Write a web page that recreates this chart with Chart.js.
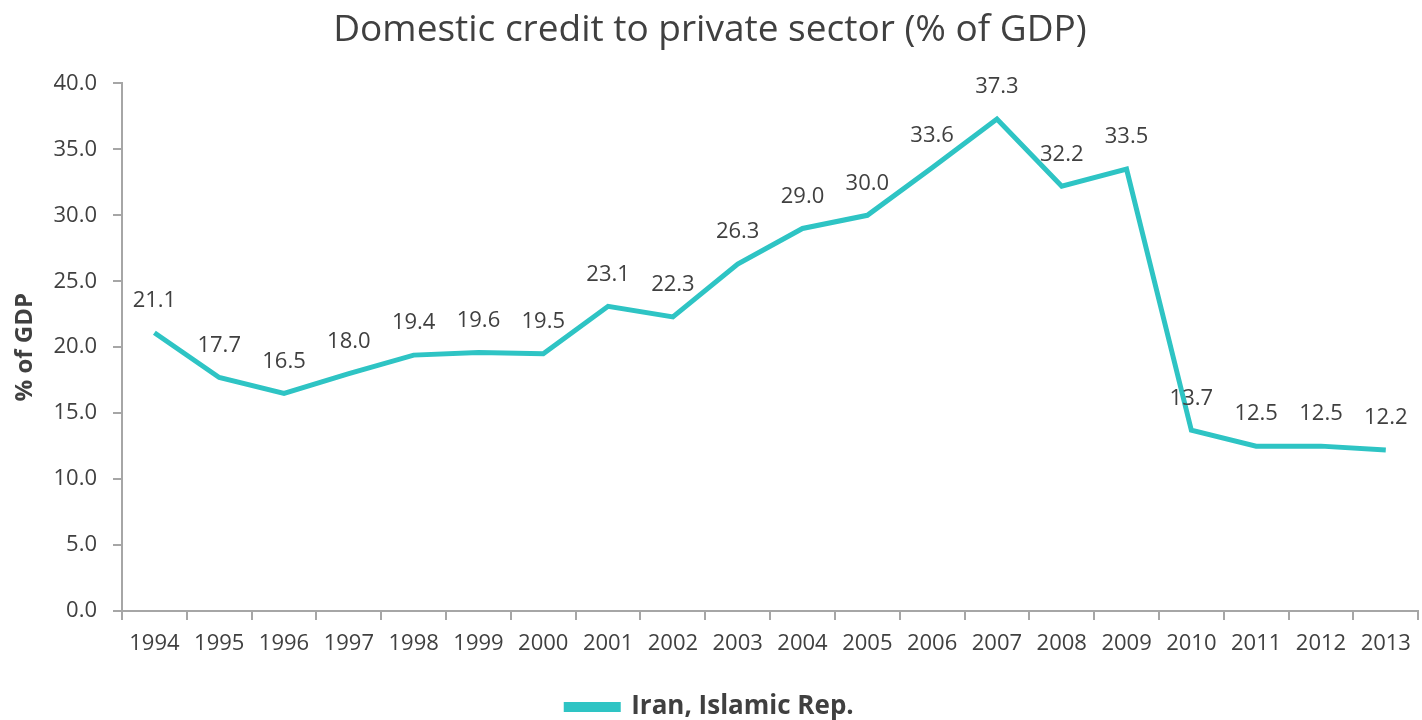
<!DOCTYPE html>
<html lang="en">
<head>
<meta charset="UTF-8">
<title>Domestic credit to private sector</title>
<script src="https://cdn.jsdelivr.net/npm/chart.js"></script>
<style>
    html, body { margin: 0; padding: 0; background: #ffffff; }
    #wrap { width: 1422px; height: 720px; position: relative; }
</style>
</head>
<body>
<div id="wrap"><canvas id="creditChart"></canvas></div>
<script>
const years = ['1994','1995','1996','1997','1998','1999','2000','2001','2002','2003',
               '2004','2005','2006','2007','2008','2009','2010','2011','2012','2013'];
const creditPct = [21.1, 17.7, 16.5, 18.0, 19.4, 19.6, 19.5, 23.1, 22.3, 26.3,
                   29.0, 30.0, 33.6, 37.3, 32.2, 33.5, 13.7, 12.5, 12.5, 12.2];
const seriesName = 'Iran, Islamic Rep.';

const FONT = "'Open Sans', sans-serif";
const TEXT = '#404040';
const LINE = '#2ec4c4';

// value labels above each point
const pointLabels = {
    id: 'pointLabels',
    afterDatasetsDraw(chart) {
        const ctx = chart.ctx;
        const meta = chart.getDatasetMeta(0);
        ctx.save();
        ctx.font = '22px ' + FONT;
        ctx.fillStyle = TEXT;
        ctx.textAlign = 'center';
        ctx.textBaseline = 'middle';
        meta.data.forEach((pt, i) => {
            ctx.fillText(creditPct[i].toFixed(1), pt.x, pt.y - 32);
        });
        ctx.restore();
    }
};

new Chart(document.getElementById('creditChart'), {
    type: 'line',
    data: {
        labels: years,
        datasets: [{
            label: seriesName,
            data: creditPct,
            borderColor: LINE,
            backgroundColor: LINE,
            borderWidth: 5,
            pointRadius: 0,
            tension: 0,
            fill: false
        }]
    },
    options: {
        responsive: true,
        maintainAspectRatio: false,
        animation: false,
        layout: { padding: { left: 0, right: 2, top: 0, bottom: -10 } },
        plugins: {
            title: {
                display: true,
                text: 'Domestic credit to private sector (% of GDP)',
                color: TEXT,
                font: { family: FONT, size: 37, weight: 'normal' },
                padding: { top: 8, bottom: 31 }
            },
            legend: {
                position: 'bottom',
                labels: {
                    color: TEXT,
                    font: { family: FONT, size: 26, weight: 'bold' },
                    boxWidth: 52,
                    boxHeight: 5,
                    padding: 2
                }
            },
            tooltip: { enabled: false }
        },
        scales: {
            x: {
                offset: true,
                border: { color: '#a6a6a6', width: 2 },
                grid: { offset: true, drawOnChartArea: false, tickLength: 9, color: '#a6a6a6', lineWidth: 2 },
                ticks: { color: TEXT, font: { family: FONT, size: 22 }, padding: 11, maxRotation: 0 },
                afterFit(s) { s.height = 81; }
            },
            y: {
                min: 0,
                max: 40,
                border: { color: '#a6a6a6', width: 2 },
                grid: { drawOnChartArea: false, tickLength: 9, color: '#a6a6a6', lineWidth: 2 },
                ticks: {
                    stepSize: 5,
                    color: TEXT,
                    font: { family: FONT, size: 22 },
                    padding: 16,
                    callback: v => v.toFixed(1)
                },
                title: {
                    display: true,
                    text: '% of GDP',
                    color: TEXT,
                    font: { family: FONT, size: 24, weight: 'bold' },
                    padding: { top: 11, bottom: 4 }
                },
                afterFit(s) { s.width = 122; }
            }
        }
    },
    plugins: [pointLabels]
});
</script>
</body>
</html>
